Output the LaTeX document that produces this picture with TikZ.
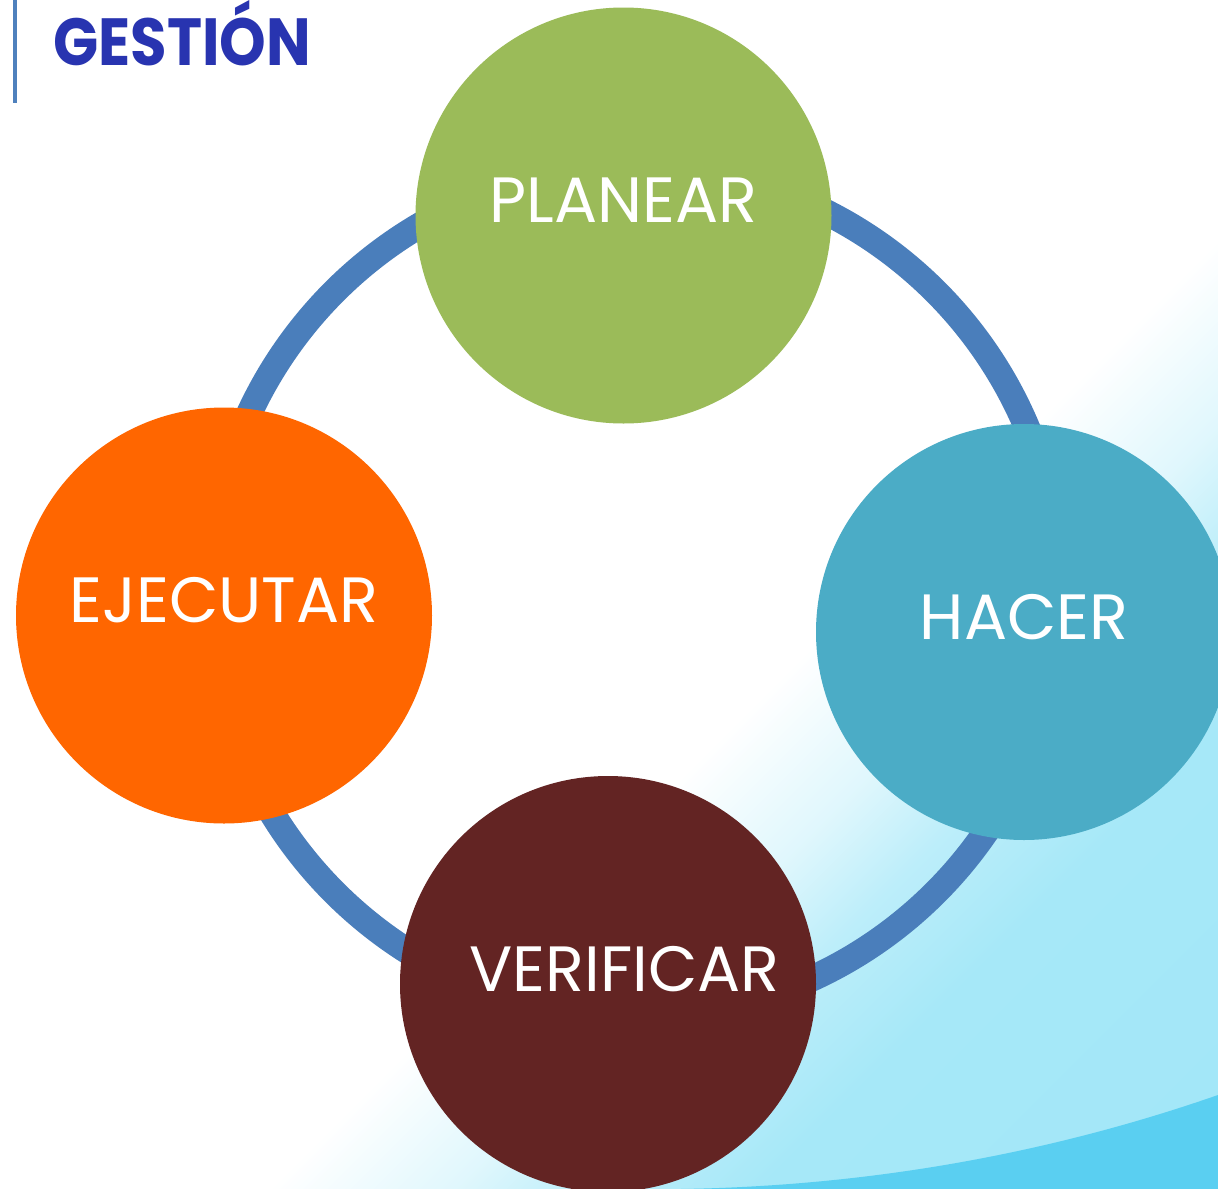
\documentclass[tikz,border=0pt]{standalone}
\usepackage{fontspec}
\setmainfont{Poppins}
\usetikzlibrary{positioning}

\definecolor{verdeplan}{RGB}{155,187,89}
\definecolor{azulhacer}{RGB}{75,172,198}
\definecolor{naranjaejec}{RGB}{255,102,0}
\definecolor{cafeverif}{RGB}{99,36,35}
\definecolor{azulanillo}{RGB}{74,126,187}
\definecolor{azultitulo}{RGB}{40,52,176}
\definecolor{azulbarra}{RGB}{79,129,189}
\definecolor{fondocian}{RGB}{166,232,248}
\definecolor{bandacian}{RGB}{90,207,241}

\pgfdeclarehorizontalshading{fondo}{100bp}{color(0bp)=(white); color(57.5bp)=(white); color(63bp)=(fondocian!35); color(67bp)=(fondocian!75); color(72bp)=(fondocian); color(100bp)=(fondocian!90!bandacian)}

\tikzset{every picture/.style={line width=0.75pt}}
\tikzset{
  fase/.style={circle, minimum size=312pt, inner sep=0pt, text=white,
    font=\fontsize{48}{50}\selectfont, text height=34pt, text depth=23pt},
  anillo/.style={draw=azulanillo, line width=19.5pt},
  titulo/.style={text=azultitulo, font=\fontsize{50}{52}\selectfont\bfseries, inner sep=0pt},
}

\begin{document}
\begin{tikzpicture}[x=0.75pt,y=0.75pt,yscale=-1,xscale=1]

\useasboundingbox (0,0) rectangle (1218,1189);
\fill [shading=fondo, shading angle=-45] (0,0) rectangle (1218,1189);
\fill [bandacian] (680,1189) .. controls (880,1186) and (1060,1150) .. (1218,1095) -- (1218,1189) -- cycle;

\draw [azulbarra, line width=3pt] (15,0) -- (15,103);
\node [titulo, anchor=base west] (titulo) at (53,65) {\scalebox{0.89}[1]{GESTIÓN}};

\coordinate (centro) at (635,592);
\draw [anillo] (centro) circle (425);

\node [fase, fill=verdeplan] (planear) at (623.5,215.5) {PLANEAR};
\node [fase, fill=azulhacer] (hacer) at (1024,632) {HACER};
\node [fase, fill=cafeverif] (verificar) at (608,984) {\hspace*{25pt}VERIFICAR};
\node [fase, fill=naranjaejec] (ejecutar) at (224,615.5) {EJECUTAR};

\end{tikzpicture}
\end{document}
